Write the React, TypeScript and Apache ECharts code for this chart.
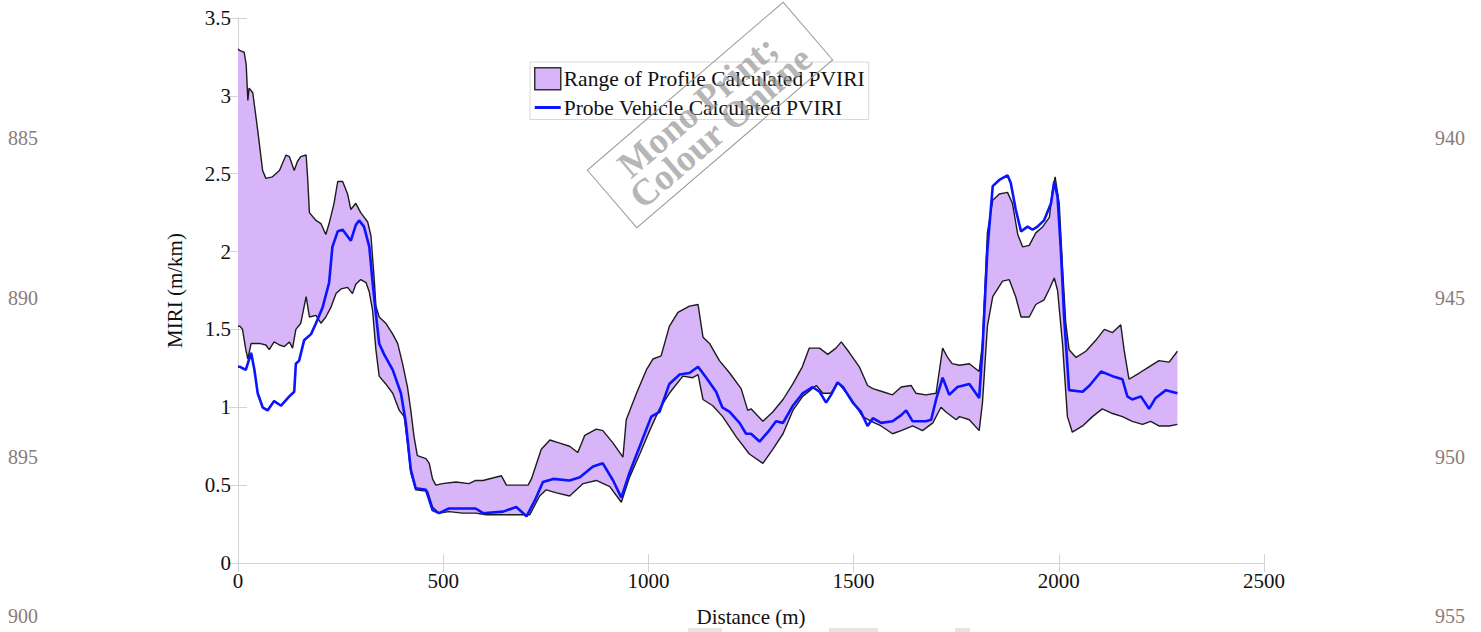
import React, { useEffect, useRef } from "react";
import * as echarts from "echarts";

// [distance (m), MIRI (m/km)]
const rangeUpper: number[][] = [
  [0, 3.3], [5, 3.29], [15, 3.28], [20, 3.2], [24, 2.97], [27, 3.05], [36, 3.02], [48, 2.78], [60, 2.52],
  [68, 2.47], [84, 2.48], [101, 2.52], [117, 2.62], [125, 2.61], [137, 2.52], [145, 2.58], [153, 2.61],
  [166, 2.62], [170, 2.46], [174, 2.25], [190, 2.2], [202, 2.18], [214, 2.11], [222, 2.18], [234, 2.31],
  [243, 2.45], [255, 2.45], [267, 2.37], [275, 2.27], [287, 2.31], [299, 2.25], [316, 2.19], [324, 2.1],
  [332, 1.82], [336, 1.65], [344, 1.58], [360, 1.54], [377, 1.47], [389, 1.41], [401, 1.28], [413, 1.13],
  [421, 0.98], [429, 0.81], [437, 0.69], [458, 0.67], [466, 0.64], [474, 0.54], [482, 0.5], [498, 0.51],
  [531, 0.52], [563, 0.51], [579, 0.53], [597, 0.53], [642, 0.56], [654, 0.5], [707, 0.5], [715, 0.54],
  [739, 0.73], [760, 0.79], [784, 0.77], [808, 0.75], [828, 0.71], [845, 0.82], [873, 0.86], [889, 0.85],
  [914, 0.77], [938, 0.68], [946, 0.92], [971, 1.09], [995, 1.24], [1011, 1.31], [1031, 1.33], [1051, 1.52],
  [1072, 1.61], [1100, 1.65], [1121, 1.66], [1133, 1.45], [1149, 1.41], [1173, 1.3], [1198, 1.22],
  [1226, 1.12], [1242, 0.98], [1250, 0.99], [1279, 0.91], [1303, 0.97], [1328, 1.05], [1352, 1.15],
  [1375, 1.26], [1392, 1.38], [1417, 1.38], [1437, 1.34], [1457, 1.38], [1470, 1.42], [1490, 1.35],
  [1514, 1.26], [1534, 1.14], [1547, 1.12], [1571, 1.1], [1595, 1.08], [1616, 1.13], [1640, 1.14],
  [1652, 1.09], [1676, 1.08], [1701, 1.09], [1717, 1.38], [1729, 1.32], [1740, 1.28], [1758, 1.27],
  [1782, 1.28], [1806, 1.23], [1814, 1.41], [1826, 2.12], [1839, 2.33], [1855, 2.37], [1875, 2.38],
  [1887, 2.31], [1900, 2.11], [1912, 2.03], [1928, 2.04], [1944, 2.12], [1961, 2.16], [1977, 2.22],
  [1985, 2.4], [1991, 2.48], [2001, 2.31], [2009, 1.9], [2017, 1.54], [2025, 1.37], [2042, 1.32],
  [2066, 1.36], [2090, 1.43], [2111, 1.5], [2131, 1.48], [2151, 1.53], [2159, 1.37], [2171, 1.18],
  [2196, 1.22], [2220, 1.26], [2244, 1.3], [2269, 1.29], [2289, 1.36],
];

const rangeLower: number[][] = [
  [0, 1.52], [5, 1.52], [11, 1.5], [19, 1.37], [24, 1.31], [32, 1.41], [52, 1.41], [68, 1.4], [76, 1.37],
  [88, 1.42], [101, 1.4], [113, 1.39], [125, 1.42], [133, 1.38], [141, 1.5], [153, 1.54], [166, 1.71],
  [174, 1.58], [190, 1.59], [202, 1.54], [214, 1.58], [226, 1.64], [239, 1.73], [251, 1.76], [267, 1.77],
  [279, 1.73], [287, 1.79], [299, 1.82], [312, 1.8], [320, 1.74], [328, 1.62], [336, 1.37], [344, 1.2],
  [360, 1.15], [377, 1.09], [393, 0.98], [405, 0.94], [413, 0.77], [421, 0.58], [433, 0.47], [462, 0.46],
  [474, 0.36], [490, 0.32], [514, 0.33], [547, 0.32], [579, 0.32], [605, 0.31], [662, 0.31], [711, 0.31],
  [735, 0.43], [751, 0.47], [776, 0.45], [808, 0.43], [841, 0.51], [873, 0.53], [906, 0.49], [934, 0.39],
  [954, 0.55], [979, 0.7], [1003, 0.85], [1027, 0.99], [1051, 1.09], [1084, 1.2], [1108, 1.19],
  [1121, 1.21], [1133, 1.05], [1157, 1.01], [1181, 0.94], [1214, 0.81], [1246, 0.7], [1279, 0.64],
  [1303, 0.73], [1328, 0.83], [1352, 0.98], [1376, 1.07], [1409, 1.14], [1425, 1.09], [1445, 1.09],
  [1461, 1.16], [1490, 1.07], [1522, 0.94], [1543, 0.91], [1567, 0.88], [1595, 0.83], [1616, 0.85],
  [1644, 0.88], [1668, 0.85], [1693, 0.9], [1713, 1.0], [1725, 0.97], [1750, 0.92], [1758, 0.94],
  [1782, 0.92], [1806, 0.85], [1814, 1.03], [1826, 1.52], [1839, 1.71], [1863, 1.81], [1879, 1.82],
  [1895, 1.71], [1908, 1.58], [1928, 1.58], [1944, 1.66], [1964, 1.69], [1977, 1.76], [1989, 1.83],
  [1997, 1.75], [2009, 1.41], [2021, 0.94], [2033, 0.84], [2058, 0.88], [2082, 0.94], [2106, 0.99],
  [2131, 0.96], [2155, 0.94], [2179, 0.91], [2204, 0.89], [2224, 0.91], [2244, 0.88], [2269, 0.88],
  [2289, 0.89],
];

const probeVehicle: number[][] = [
  [0, 1.26], [5, 1.26], [19, 1.24], [32, 1.35], [40, 1.24], [48, 1.09], [60, 1.0], [72, 0.98], [88, 1.04],
  [105, 1.01], [125, 1.07], [137, 1.1], [141, 1.28], [149, 1.3], [161, 1.43], [178, 1.47], [190, 1.54],
  [206, 1.64], [222, 1.8], [230, 2.03], [243, 2.13], [255, 2.14], [275, 2.07], [287, 2.17], [295, 2.2],
  [307, 2.16], [320, 2.03], [328, 1.8], [336, 1.6], [344, 1.41], [356, 1.34], [377, 1.24], [397, 1.09],
  [409, 0.9], [421, 0.6], [433, 0.48], [458, 0.47], [474, 0.34], [490, 0.32], [514, 0.35], [547, 0.35],
  [579, 0.35], [597, 0.32], [646, 0.33], [678, 0.36], [703, 0.3], [723, 0.4], [743, 0.52], [768, 0.54],
  [808, 0.53], [833, 0.55], [865, 0.62], [889, 0.64], [914, 0.53], [934, 0.42], [954, 0.58], [979, 0.75],
  [1007, 0.94], [1027, 0.97], [1051, 1.15], [1076, 1.21], [1100, 1.22], [1121, 1.26], [1141, 1.19],
  [1165, 1.1], [1180, 1.0], [1198, 0.97], [1222, 0.9], [1238, 0.83], [1250, 0.83], [1271, 0.78],
  [1291, 0.84], [1311, 0.91], [1328, 0.9], [1352, 1.01], [1376, 1.09], [1400, 1.13], [1417, 1.1],
  [1433, 1.03], [1445, 1.08], [1461, 1.16], [1474, 1.13], [1498, 1.03], [1518, 0.97], [1534, 0.88],
  [1547, 0.93], [1567, 0.9], [1595, 0.91], [1616, 0.95], [1628, 0.98], [1644, 0.91], [1676, 0.91],
  [1689, 0.92], [1701, 1.05], [1717, 1.19], [1733, 1.08], [1753, 1.13], [1782, 1.15], [1806, 1.06],
  [1814, 1.37], [1826, 2.01], [1839, 2.42], [1855, 2.46], [1875, 2.49], [1883, 2.44], [1895, 2.27],
  [1908, 2.13], [1924, 2.16], [1936, 2.14], [1948, 2.16], [1964, 2.2], [1981, 2.31], [1989, 2.45],
  [1997, 2.35], [2005, 2.01], [2013, 1.58], [2025, 1.11], [2058, 1.1], [2075, 1.14], [2103, 1.23],
  [2131, 1.2], [2155, 1.18], [2167, 1.07], [2179, 1.05], [2200, 1.07], [2220, 0.99], [2236, 1.06],
  [2261, 1.11], [2289, 1.09],
];

const RANGE_NAME = "Range of Profile Calculated PVIRI";
const PROBE_NAME = "Probe Vehicle Calculated PVIRI";

const leftLineNumbers = ["885", "890", "895", "900"];
const rightLineNumbers = ["940", "945", "950", "955"];
const lineNumberY = [138, 298, 457, 616];

const SERIF = '"Liberation Serif", "Times New Roman", serif';
const BAND_FILL = "#d8b5f8";
const PROBE_BLUE = "#0a14ff";
const FRAME = "#d4d4d4";

export default function App() {
  const ref = useRef<HTMLDivElement>(null);

  useEffect(() => {
    if (!ref.current) return;
    const chart = echarts.init(ref.current, undefined, { renderer: "svg" });

    const axisCommon = {
      type: "value" as const,
      axisLine: { show: true, lineStyle: { color: FRAME, width: 1 } },
      axisTick: { show: true, inside: true, length: 9, lineStyle: { color: FRAME } },
      splitLine: { show: false },
    };

    // page line numbers printed in both margins
    const lineNumberTexts: any[] = [];
    lineNumberY.forEach((y, i) => {
      [
        { x: 23, text: leftLineNumbers[i] },
        { x: 1450, text: rightLineNumbers[i] },
      ].forEach((n) => {
        lineNumberTexts.push({
          type: "text",
          x: n.x,
          y,
          style: {
            text: n.text,
            font: `20px ${SERIF}`,
            fill: "#8a7c78",
            align: "center",
            verticalAlign: "middle",
          },
        });
      });
    });

    const stampText = "rgba(150,150,150,0.7)";

    chart.setOption({
      animation: false,
      backgroundColor: "#fff",
      grid: { left: 238, right: 217, top: 18, bottom: 67, containLabel: false },
      legend: {
        left: 530,
        top: 62,
        orient: "vertical",
        padding: [5, 4, 1, 4],
        itemGap: 6,
        itemWidth: 26,
        itemHeight: 22,
        backgroundColor: "#fff",
        borderColor: "#d9d9d9",
        borderWidth: 1,
        borderRadius: 0,
        selectedMode: false,
        z: 5,
        textStyle: { fontFamily: SERIF, fontSize: 21.5, color: "#111", padding: [0, 0, 0, -2] },
        data: [
          {
            name: RANGE_NAME,
            icon: "rect",
            itemStyle: { color: BAND_FILL, borderColor: "#333", borderWidth: 1.5 },
          },
          {
            name: PROBE_NAME,
            icon: "path://M0,0 L26,0 L26,3 L0,3 Z",
            itemStyle: { color: PROBE_BLUE, borderWidth: 0 },
          },
        ],
      },
      xAxis: [
        {
          ...axisCommon,
          position: "bottom",
          min: 0,
          max: 2500,
          interval: 500,
          name: "Distance (m)",
          nameLocation: "middle",
          nameGap: 43,
          nameTextStyle: { fontFamily: SERIF, fontSize: 21, color: "#111" },
          axisLabel: {
            fontFamily: SERIF,
            fontSize: 21,
            color: "#111",
            margin: 7,
            formatter: (v: number) => String(v),
          },
        },
        {
          ...axisCommon,
          position: "top",
          min: 0,
          max: 2500,
          interval: 500,
          axisLabel: { show: false },
        },
      ],
      yAxis: [
        {
          ...axisCommon,
          position: "left",
          min: 0,
          max: 3.5,
          interval: 0.5,
          name: "MIRI (m/km)",
          nameLocation: "middle",
          nameGap: 53,
          nameRotate: 90,
          nameTextStyle: { fontFamily: SERIF, fontSize: 21, color: "#111" },
          axisLabel: {
            fontFamily: SERIF,
            fontSize: 21,
            color: "#111",
            margin: 7,
            formatter: (v: number) => String(v),
          },
        },
        {
          ...axisCommon,
          position: "right",
          min: 0,
          max: 3.5,
          interval: 0.5,
          axisLabel: { show: false },
        },
      ],
      series: [
        {
          name: RANGE_NAME,
          type: "custom",
          coordinateSystem: "cartesian2d",
          itemStyle: { color: BAND_FILL },
          data: [[0, 0]],
          encode: { x: 0, y: 1 },
          z: 1,
          silent: true,
          renderItem: (params: any, api: any) => {
            if (params.dataIndex !== 0) return null;
            // band outline: upper edge forward, lower edge back
            const pts = rangeUpper
              .map((p) => api.coord(p))
              .concat(rangeLower.slice().reverse().map((p) => api.coord(p)));
            return {
              type: "polygon",
              shape: { points: pts },
              style: { fill: BAND_FILL, stroke: "none" },
            };
          },
        },
        {
          name: "upper",
          type: "line",
          data: rangeUpper,
          symbol: "none",
          lineStyle: { color: "#1c1c1c", width: 1.4 },
          z: 2,
          silent: true,
        },
        {
          name: "lower",
          type: "line",
          data: rangeLower,
          symbol: "none",
          lineStyle: { color: "#1c1c1c", width: 1.4 },
          z: 2,
          silent: true,
        },
        {
          name: PROBE_NAME,
          type: "line",
          data: probeVehicle,
          symbol: "none",
          itemStyle: { color: PROBE_BLUE },
          lineStyle: { color: PROBE_BLUE, width: 2.6 },
          z: 3,
          silent: true,
        },
      ],
      graphic: [
        ...lineNumberTexts,
        {
          type: "group",
          x: 710,
          y: 115,
          rotation: 0.709,
          silent: true,
          z: 100,
          children: [
            {
              type: "rect",
              z: 100,
              shape: { x: -129, y: -38, width: 258, height: 76 },
              style: { fill: "none", stroke: "#9a9a9a", lineWidth: 1 },
            },
            {
              type: "text",
              z: 100,
              x: -4,
              y: -15,
              style: {
                text: "Mono Print;",
                font: `bold 37px ${SERIF}`,
                fill: stampText,
                align: "center",
                verticalAlign: "middle",
              },
            },
            {
              type: "text",
              z: 100,
              x: 0,
              y: 16,
              style: {
                text: "Colour Online",
                font: `bold 37px ${SERIF}`,
                fill: stampText,
                align: "center",
                verticalAlign: "middle",
              },
            },
          ],
        },
        { type: "rect", shape: { x: 688, y: 628, width: 34, height: 4 }, style: { fill: "#e4e4e4" }, silent: true },
        { type: "rect", shape: { x: 829, y: 628, width: 49, height: 4 }, style: { fill: "#e4e4e4" }, silent: true },
        { type: "rect", shape: { x: 955, y: 628, width: 15, height: 4 }, style: { fill: "#e4e4e4" }, silent: true },
      ],
    });

    return () => chart.dispose();
  }, []);

  return (
    <div
      ref={ref}
      style={{ position: "fixed", left: 0, top: 0, width: 1481, height: 632, background: "#fff" }}
    />
  );
}
